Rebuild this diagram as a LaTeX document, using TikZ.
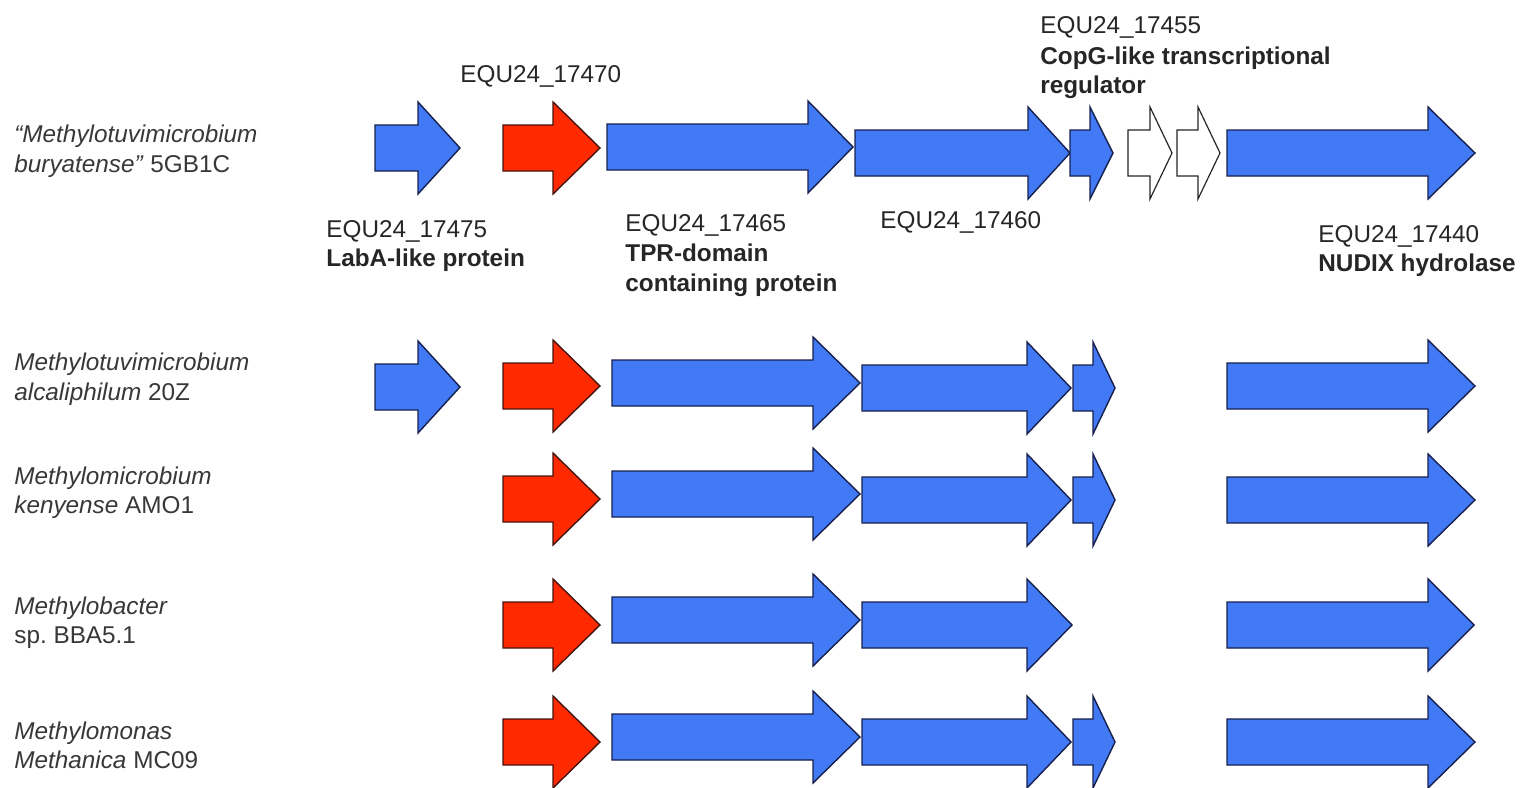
\documentclass[tikz,border=0pt]{standalone}
\usepackage{fontspec}
\setmainfont{Liberation Sans}
\definecolor{gblue}{RGB}{66,122,245}
\definecolor{gred}{RGB}{255,42,0}
\definecolor{gline}{RGB}{22,32,78}
\definecolor{rline}{RGB}{70,20,15}
\definecolor{txt}{RGB}{38,38,38}
\newcommand\genearrow[6]{%
  \coordinate (#1) at ({(#2+#4)/2},#5);
  \draw[#6] ({#2},{#5-23}) -- ({#3},{#5-23}) -- ({#3},{#5-46}) -- ({#4},{#5})
    -- ({#3},{#5+46}) -- ({#3},{#5+23}) -- ({#2},{#5+23}) -- cycle;}
\tikzset{
  bluegene/.style={fill=gblue,draw=gline,line width=0.7pt,line join=miter},
  redgene/.style={fill=gred,draw=rline,line width=0.7pt,line join=miter},
  whitegene/.style={fill=white,draw=black!85,line width=0.6pt,line join=miter},
  lbl/.style={anchor=base west,inner sep=0pt,text=txt,font=\fontsize{12.15}{15}\selectfont},
  blbl/.style={lbl,font=\fontsize{12.15}{15}\selectfont\bfseries},
  spc/.style={lbl,text=black!78}
}
\begin{document}
\begin{tikzpicture}[x=0.5pt,y=-0.5pt]
\useasboundingbox (0,0) rectangle (1520,787);
\fill[white] (0,0) rectangle (1520,787);

% Row 1
\genearrow{r1a}{375}{418}{460}{148}{bluegene}
\genearrow{r1b}{503}{553}{600}{148}{redgene}
\genearrow{r1c}{607}{808}{853}{147}{bluegene}
\genearrow{r1d}{855}{1028}{1070}{153}{bluegene}
\genearrow{r1e}{1070}{1090}{1113}{153}{bluegene}
\genearrow{r1f}{1128}{1150}{1172}{153}{whitegene}
\genearrow{r1g}{1177}{1198}{1220}{153}{whitegene}
\genearrow{r1h}{1227}{1428}{1475}{153}{bluegene}

% Row 2
\genearrow{r2a}{375}{418}{460}{387}{bluegene}
\genearrow{r2b}{503}{553}{600}{386}{redgene}
\genearrow{r2c}{612}{813}{860}{383}{bluegene}
\genearrow{r2d}{862}{1027}{1071}{388}{bluegene}
\genearrow{r2e}{1073}{1093}{1115}{388}{bluegene}
\genearrow{r2h}{1227}{1428}{1475}{386}{bluegene}

% Row 3
\genearrow{r3b}{503}{553}{600}{499}{redgene}
\genearrow{r3c}{612}{813}{860}{494}{bluegene}
\genearrow{r3d}{862}{1027}{1071}{500}{bluegene}
\genearrow{r3e}{1073}{1093}{1115}{500}{bluegene}
\genearrow{r3h}{1227}{1428}{1475}{500}{bluegene}

% Row 4
\genearrow{r4b}{503}{553}{600}{625}{redgene}
\genearrow{r4c}{612}{813}{860}{620}{bluegene}
\genearrow{r4d}{862}{1027}{1072}{625}{bluegene}
\genearrow{r4h}{1227}{1428}{1474}{625}{bluegene}

% Row 5
\genearrow{r5b}{503}{553}{600}{742}{redgene}
\genearrow{r5c}{612}{813}{860}{737}{bluegene}
\genearrow{r5d}{862}{1027}{1071}{742}{bluegene}
\genearrow{r5e}{1073}{1093}{1115}{742}{bluegene}
\genearrow{r5h}{1227}{1428}{1475}{742}{bluegene}

% Gene labels
\node[lbl] (l470) at (460,82) {EQU24\_17470};
\node[lbl] (l455) at (1040,33) {EQU24\_17455};
\node[blbl] (l455a) at (1040,64) {CopG-like transcriptional};
\node[blbl] (l455b) at (1040,93) {regulator};
\node[lbl] (l475) at (326,237) {EQU24\_17475};
\node[blbl] (l475a) at (326,266) {LabA-like protein};
\node[lbl] (l465) at (625,231) {EQU24\_17465};
\node[blbl] (l465a) at (625,261) {TPR-domain};
\node[blbl] (l465b) at (625,291) {containing protein};
\node[lbl] (l460) at (880,228) {EQU24\_17460};
\node[lbl] (l440) at (1318,242) {EQU24\_17440};
\node[blbl] (l440a) at (1318,271) {NUDIX hydrolase};

% Species labels
\node[spc] (s1a) at (14,142) {\itshape “Methylotuvimicrobium};
\node[spc] (s1b) at (14,172) {\textit{buryatense”} 5GB1C};
\node[spc] (s2a) at (14,370) {\itshape Methylotuvimicrobium};
\node[spc] (s2b) at (14,400) {\textit{alcaliphilum} 20Z};
\node[spc] (s3a) at (14,484) {\itshape Methylomicrobium};
\node[spc] (s3b) at (14,513) {\textit{kenyense} AMO1};
\node[spc] (s4a) at (14,614) {\itshape Methylobacter};
\node[spc] (s4b) at (14,643) {sp.\ BBA5.1};
\node[spc] (s5a) at (14,739) {\itshape Methylomonas};
\node[spc] (s5b) at (14,768) {\textit{Methanica} MC09};
\end{tikzpicture}
\end{document}
